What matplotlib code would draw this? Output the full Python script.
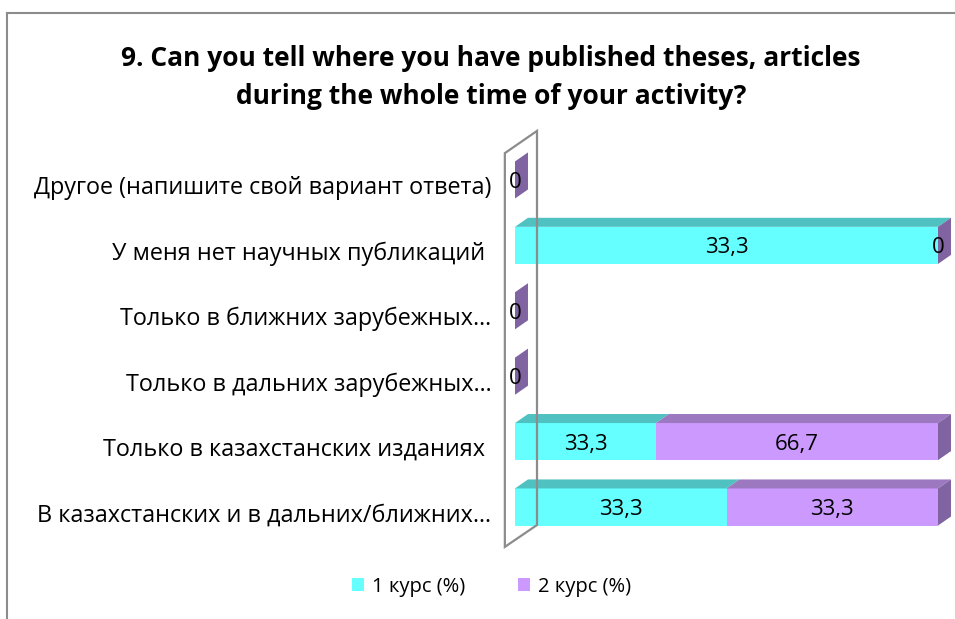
import numpy as np
import matplotlib
matplotlib.use("Agg")
import matplotlib.pyplot as plt
from matplotlib.patches import Polygon, Patch
from matplotlib.lines import Line2D

plt.rcParams['font.family'] = ['Open Sans', 'DejaVu Sans']

# данные (сверху вниз)
categories = ["Другое (напишите свой вариант ответа)",
              "У меня нет научных публикаций ",
              "Только в ближних зарубежных…",
              "Только в дальних зарубежных…",
              "Только в казахстанских изданиях ",
              "В казахстанских и в дальних/ближних…"]
kurs1 = [np.nan, 33.3, np.nan, np.nan, 33.3, 33.3]
kurs2 = [0, 0, 0, 0, 66.7, 33.3]
series_names = ["1 курс (%)", "2 курс (%)"]

front = ["#66FFFF", "#CC99FF"]
top = ["#4FC1C1", "#9C78C0"]
side = "#8064A2"

fig = plt.figure(figsize=(9.55, 6.19), dpi=100)
ax = fig.add_axes([515 / 955, 0.1281, 423 / 955, 0.634])

n = len(categories)
ypos = np.arange(n)[::-1]  # первая категория сверху
h = 0.567
dx, dy = 3.07, 0.138  # глубина 3D

v1 = np.array(kurs1, dtype=float)
v2 = np.array(kurs2, dtype=float)
total = np.nansum(np.vstack([v1, v2]), axis=0)
share1 = np.where(total > 0, np.nan_to_num(v1) / np.where(total > 0, total, 1) * 100, 0)
share2 = np.where(total > 0, v2 / np.where(total > 0, total, 1) * 100, 0)

for i in range(n):
    y = ypos[i]
    left = 0
    segs = [(v1[i], share1[i], 0), (v2[i], share2[i], 1)]
    for val, w, s in segs:
        if np.isnan(val):
            continue
        if w > 0:
            ax.barh(y, w, left=left, height=h, color=front[s], edgecolor="none")
            ax.add_patch(Polygon([[left, y + h / 2], [left + w, y + h / 2],
                                  [left + w + dx, y + h / 2 + dy], [left + dx, y + h / 2 + dy]],
                                 closed=True, facecolor=top[s], edgecolor="none", clip_on=False))
        lab = ("%.1f" % val).replace(".", ",") if val != 0 else "0"
        ax.text(left + w / 2, y - 0.04, lab, ha="center", va="center", fontsize=16, color="black",
                zorder=5)
        left += w
    # боковая грань
    ax.add_patch(Polygon([[left, y - h / 2], [left, y + h / 2],
                          [left + dx, y + h / 2 + dy], [left + dx, y - h / 2 + dy]],
                         closed=True, facecolor=side, edgecolor="none", clip_on=False, zorder=3))

# стенка
wx0, wx1 = -2.4, 5.2
ax.add_patch(Polygon([[wx0, -0.61], [wx0, 5.41], [wx1, 5.75], [wx1, -0.275]], closed=True,
                     facecolor="none", edgecolor="#8C8C8C", linewidth=1.6, clip_on=False, zorder=1))

ax.set_xlim(0, 100)
ax.set_ylim(-0.5, n - 0.5)
ax.set_yticks(ypos - 0.08)
ax.set_yticklabels(categories, fontsize=16.8)
ax.tick_params(axis="y", length=0, pad=17)
ax.set_xticks([])
for sp in ax.spines.values():
    sp.set_visible(False)
ax.patch.set_visible(False)

fig.text(0.514, 0.875, "9. Can you tell where you have published theses, articles\nduring the whole time of your activity?",
         ha="center", va="center", fontsize=19, fontweight="bold", linespacing=1.5)

handles = [Patch(facecolor=front[0], edgecolor="none"), Patch(facecolor=front[1], edgecolor="none")]
fig.legend(handles, series_names, loc="center", bbox_to_anchor=(0.515, 0.052), ncol=2, frameon=False,
           fontsize=14.5, handlelength=0.6, handleheight=0.6, handletextpad=0.4, columnspacing=2.6)

# рамка диаграммы
fig.add_artist(Line2D([7 / 955, 7 / 955], [0, 1 - 13 / 619], color="#8C8C8C", linewidth=1.5))
fig.add_artist(Line2D([7 / 955, 1], [1 - 13 / 619, 1 - 13 / 619], color="#8C8C8C", linewidth=1.5))

fig.savefig("out.png", dpi=100)
